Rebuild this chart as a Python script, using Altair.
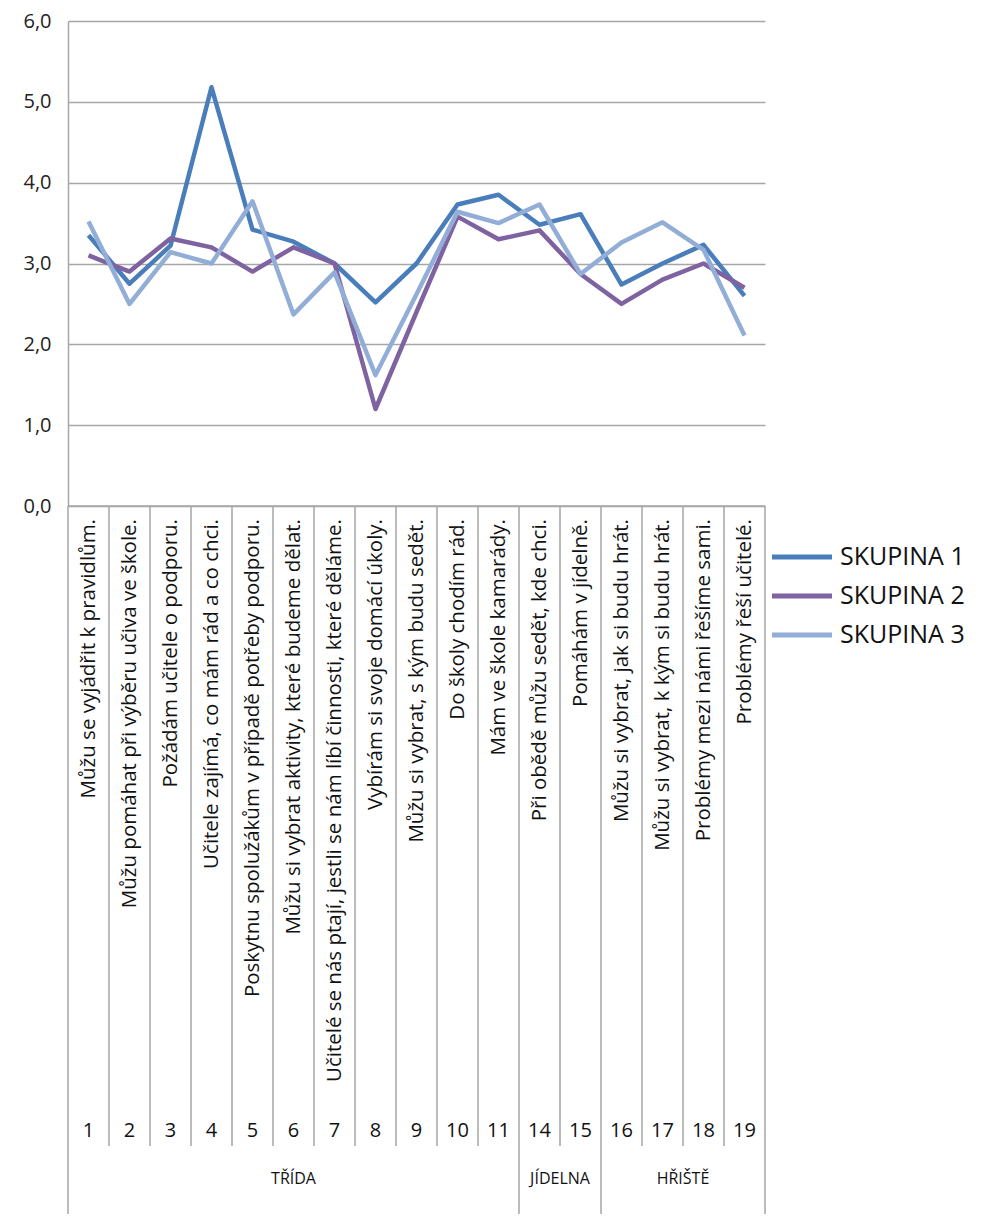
import altair as alt
import pandas as pd

labels = [
    "Můžu se vyjádřit k pravidlům.",
    "Můžu pomáhat při výběru učiva ve škole.",
    "Požádám učitele o podporu.",
    "Učitele zajímá, co mám rád a co chci.",
    "Poskytnu spolužákům v případě potřeby podporu.",
    "Můžu si vybrat aktivity, které budeme dělat.",
    "Učitelé se nás ptají, jestli se nám líbí činnosti, které děláme.",
    "Vybírám si svoje domácí úkoly.",
    "Můžu si vybrat, s kým budu sedět.",
    "Do školy chodím rád.",
    "Mám ve škole kamarády.",
    "Při obědě můžu sedět, kde chci.",
    "Pomáhám v jídelně.",
    "Můžu si vybrat, jak si budu hrát.",
    "Můžu si vybrat, k kým si budu hrát.",
    "Problémy mezi námi řešíme sami.",
    "Problémy řeší učitelé.",
]
numbers = ["1", "2", "3", "4", "5", "6", "7", "8", "9", "10", "11",
           "14", "15", "16", "17", "18", "19"]
groups = ["TŘÍDA"] * 11 + ["JÍDELNA"] * 2 + ["HŘIŠTĚ"] * 4

series_names = ["SKUPINA 1", "SKUPINA 2", "SKUPINA 3"]
skupina1 = [3.35, 2.75, 3.22, 5.18, 3.42, 3.27, 3.0, 2.52, 3.0, 3.73, 3.85,
            3.48, 3.61, 2.74, 3.0, 3.23, 2.6]
skupina2 = [3.1, 2.9, 3.31, 3.2, 2.9, 3.2, 3.0, 1.2, 2.4, 3.58, 3.3,
            3.41, 2.87, 2.5, 2.8, 3.0, 2.7]
skupina3 = [3.52, 2.5, 3.14, 3.0, 3.77, 2.37, 2.89, 1.62, 2.62, 3.64, 3.5,
            3.73, 2.87, 3.26, 3.51, 3.17, 2.11]
colors = ["#4A7EBB", "#7F63A1", "#93AED6"]

FONT = "Open Sans"
N = len(labels)

# ---------- data tables ----------
rows = []
for name, vals in zip(series_names, [skupina1, skupina2, skupina3]):
    for i, v in enumerate(vals):
        rows.append({"serie": name, "pos": i + 0.5, "value": v})
lines_df = pd.DataFrame(rows)

cat_df = pd.DataFrame({
    "pos": [i + 0.5 for i in range(N)],
    "label": labels,
    "num": numbers,
    "group": groups,
})

bounds = []
for b in range(N + 1):
    if b == 0 or b == N:
        kind = "long"
    else:
        kind = "long" if groups[b - 1] != groups[b] else "short"
    bounds.append({"b": b, "kind": kind})
bounds_df = pd.DataFrame(bounds)

grp_rows = []
for g in dict.fromkeys(groups):
    idx = [i for i, gg in enumerate(groups) if gg == g]
    grp_rows.append({"group": g, "center": (idx[0] + idx[-1] + 1) / 2})
grp_df = pd.DataFrame(grp_rows)

xscale = alt.Scale(domain=[0, N], nice=False, zero=False)
W = 697

# ---------- top chart ----------
top = alt.Chart(lines_df).mark_line(strokeWidth=4.5, strokeJoin="round").encode(
    x=alt.X("pos:Q", scale=xscale, axis=None),
    y=alt.Y("value:Q", scale=alt.Scale(domain=[0, 6], nice=False),
            axis=alt.Axis(values=[0, 1, 2, 3, 4, 5, 6],
                          labelExpr="replace(format(datum.value, '.1f'), '.', ',')",
                          grid=True, gridColor="#A6A6A6", gridWidth=1.5,
                          domainColor="#A6A6A6", domainWidth=1.5,
                          ticks=False, labelPadding=17, labelFontSize=20,
                          labelFont=FONT, labelColor="#222222",
                          minExtent=55, maxExtent=55, title=None)),
    color=alt.Color("serie:N",
                    scale=alt.Scale(domain=series_names, range=colors),
                    legend=alt.Legend(title=None, orient="none",
                                      legendX=708, legendY=510,
                                      symbolType="M-1.28,0H1.28",
                                      symbolStrokeWidth=5,
                                      symbolSize=2200, labelFontSize=25,
                                      labelFont=FONT, labelColor="#111111",
                                      labelOffset=12, rowPadding=-1)),
).properties(width=W, height=485)

# ---------- bottom (category axis) chart ----------
base_b = alt.Chart(bounds_df)
short_rules = base_b.mark_rule(color="#A6A6A6", strokeWidth=1.5).encode(
    x=alt.X("b:Q", scale=xscale, axis=None),
    y=alt.value(0), y2=alt.value(640),
).transform_filter(alt.datum.kind == "short")
long_rules = base_b.mark_rule(color="#A6A6A6", strokeWidth=1.5).encode(
    x=alt.X("b:Q", scale=xscale, axis=None),
    y=alt.value(0), y2=alt.value(708),
).transform_filter(alt.datum.kind == "long")
top_line = alt.Chart(pd.DataFrame({"a": [0], "b": [N]})).mark_rule(
    color="#A6A6A6", strokeWidth=1.5).encode(
    x=alt.X("a:Q", scale=xscale, axis=None), x2="b:Q", y=alt.value(0))

cat_text = alt.Chart(cat_df).mark_text(
    angle=270, align="right", baseline="middle", fontSize=20.5, font=FONT,
    color="#111111").encode(
    x=alt.X("pos:Q", scale=xscale, axis=None), y=alt.value(13), text="label:N")
num_text = alt.Chart(cat_df).mark_text(
    align="center", baseline="middle", fontSize=20, font=FONT,
    color="#111111").encode(
    x=alt.X("pos:Q", scale=xscale, axis=None), y=alt.value(625), text="num:N")
grp_text = alt.Chart(grp_df).mark_text(
    align="center", baseline="middle", fontSize=16, font=FONT,
    color="#111111").encode(
    x=alt.X("center:Q", scale=xscale, axis=None), y=alt.value(673), text="group:N")

bottom = alt.layer(short_rules, long_rules, top_line, cat_text, num_text,
                   grp_text).properties(width=W, height=708)

chart = alt.vconcat(top, bottom, spacing=0, bounds="flush").properties(
    padding={"left": 5, "top": 3, "right": 5, "bottom": 0}
).configure_view(stroke=None).configure_concat(spacing=0)

chart.save("out.html", embed_options={"renderer": "svg", "actions": False})
